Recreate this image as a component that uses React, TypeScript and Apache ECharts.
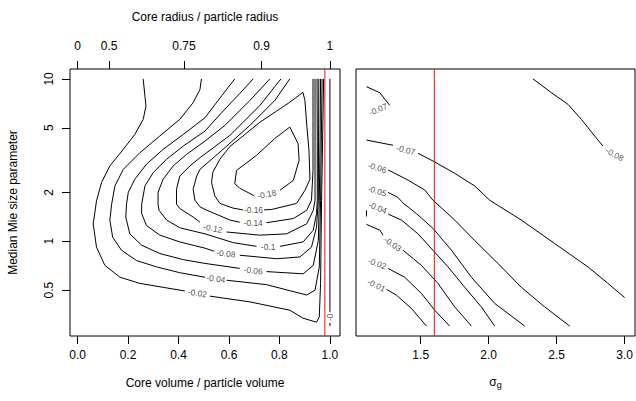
import React, { useEffect, useRef } from "react";
import * as echarts from "echarts";

// ---------- axes ----------
const volumeTicks = [0, 0.2, 0.4, 0.6, 0.8, 1.0];
const radiusTicks = [0, 0.5, 0.75, 0.9, 1];
const sizeTicks = [0.5, 1, 2, 5, 10];
const sigmaTicks = [1.5, 2.0, 2.5, 3.0];
const sizeRange = [0.3, 10];
const volumeRange = [-0.03, 1.04];
const sigmaRange = [1.1, 3.0];
const volumeMarker = 0.98;
const sigmaMarker = 1.6;

// ---------- left panel contours: [core volume fraction, size parameter] ----------
const c002a = [[0.975, 10], [0.971, 4.14], [0.967, 1.79], [0.963, 0.55], [0.958, 0.342], [0.947, 0.317], [0.893, 0.336], [0.841, 0.376], [0.683, 0.423], [0.524, 0.459]];
const c002b = [[0.425, 0.494], [0.339, 0.52], [0.247, 0.55], [0.168, 0.6], [0.108, 0.71], [0.075, 0.92], [0.062, 1.28], [0.075, 1.77], [0.095, 2.3], [0.128, 2.91], [0.181, 3.68], [0.227, 4.55], [0.26, 5.63], [0.271, 6.8], [0.267, 7.83], [0.26, 10]];
const c004a = [[0.491, 10], [0.485, 8.61], [0.458, 7.14], [0.405, 5.63], [0.326, 4.45], [0.247, 3.51], [0.181, 2.77], [0.148, 2.19], [0.135, 1.69], [0.128, 1.35], [0.139, 1.06], [0.174, 0.88], [0.234, 0.76], [0.313, 0.695], [0.405, 0.64], [0.505, 0.6]];
const c004b = [[0.591, 0.575], [0.749, 0.54], [0.908, 0.466], [0.941, 0.5], [0.958, 0.695], [0.963, 1.79], [0.966, 4.14], [0.969, 10]];
const c006a = [[0.623, 10], [0.572, 7.9], [0.505, 5.77], [0.419, 4.55], [0.339, 3.68], [0.273, 2.98], [0.227, 2.41], [0.201, 2.0], [0.194, 1.69], [0.191, 1.41], [0.207, 1.11], [0.254, 0.945], [0.326, 0.84], [0.419, 0.77], [0.505, 0.73], [0.643, 0.68]];
const c006b = [[0.749, 0.65], [0.894, 0.63], [0.934, 0.71], [0.954, 1.01], [0.958, 1.79], [0.961, 4.14], [0.963, 10]];
const c008a = [[0.696, 10], [0.643, 8.14], [0.572, 6.22], [0.505, 4.77], [0.419, 3.86], [0.353, 3.2], [0.3, 2.65], [0.267, 2.19], [0.254, 1.69], [0.254, 1.48], [0.273, 1.25], [0.326, 1.09], [0.405, 0.99], [0.505, 0.906], [0.541, 0.868]];
const c008b = [[0.643, 0.82], [0.789, 0.78], [0.881, 0.8], [0.927, 0.92], [0.947, 1.22], [0.954, 1.79], [0.955, 4.14], [0.956, 10]];
const c010a = [[0.762, 10], [0.683, 7.37], [0.584, 5.17], [0.505, 4.14], [0.432, 3.43], [0.379, 2.91], [0.339, 2.41], [0.319, 2.0], [0.319, 1.69], [0.323, 1.55], [0.353, 1.35], [0.405, 1.21], [0.505, 1.11], [0.617, 0.98], [0.709, 0.93]];
const c010b = [[0.802, 0.93], [0.894, 0.99], [0.934, 1.17], [0.947, 1.48], [0.95, 1.79], [0.95, 4.14], [0.949, 10]];
const c012a = [[0.806, 10], [0.723, 6.87], [0.604, 4.49], [0.485, 3.27], [0.445, 2.91], [0.405, 2.52], [0.392, 2.09], [0.392, 1.69], [0.405, 1.59], [0.458, 1.41], [0.485, 1.31]];
const c012b = [[0.591, 1.14], [0.722, 1.09], [0.828, 1.11], [0.908, 1.28], [0.934, 1.55], [0.941, 1.79], [0.941, 4.14], [0.941, 10]];
const c014a = [[0.841, 10], [0.782, 7.37], [0.683, 5.17], [0.572, 3.63], [0.485, 2.77], [0.472, 2.52], [0.458, 2.09], [0.465, 1.79], [0.485, 1.63], [0.505, 1.57], [0.604, 1.35], [0.643, 1.31]];
const c014b = [[0.749, 1.3], [0.855, 1.38], [0.908, 1.55], [0.927, 1.79], [0.933, 2.73], [0.933, 5.55], [0.933, 10]];
const c016 = [[0.739, 1.56], [0.77, 1.57], [0.868, 1.71], [0.901, 2.06], [0.921, 2.41], [0.917, 3.63], [0.909, 5.03], [0.901, 7.37], [0.893, 8.26], [0.841, 7.18], [0.789, 6.34], [0.722, 5.4], [0.656, 4.45], [0.604, 3.84], [0.564, 3.2], [0.536, 2.66], [0.531, 2.3], [0.544, 1.9], [0.564, 1.71], [0.616, 1.6], [0.655, 1.56]];
const c018 = [[0.802, 2.06], [0.855, 2.37], [0.878, 3.15], [0.874, 3.99], [0.841, 5.05], [0.782, 4.3], [0.709, 3.38], [0.63, 2.73], [0.623, 2.26], [0.643, 2.12], [0.7, 1.905]];
const c000a = [[1.0, 10], [1.0, 0.367]];
const c000b = [[1.0, 0.314], [1.0, 0.3]];

const leftLevels = ["-0.02", "-0.04", "-0.06", "-0.08", "-0.1", "-0.12", "-0.14", "-0.16", "-0.18", "-0"];
const leftLabelX = [0.475, 0.548, 0.696, 0.588, 0.755, 0.536, 0.696, 0.697, 0.75, 1.0];
const leftLabelY = [0.479, 0.588, 0.66, 0.84, 0.925, 1.2, 1.3, 1.55, 1.95, 0.34];
const leftLabelRot = [-9, -8, -6, -7, 0, -12, 0, 0, 11, 90];

// ---------- right panel contours: [sigma_g, size parameter] ----------
const s007a = [[1.101, 8.95], [1.199, 8.22], [1.272, 6.87]];
const s008 = [[2.326, 10], [2.461, 8.22], [2.583, 6.97], [2.682, 5.63], [2.779, 4.45], [2.84, 3.86]];
const s007b = [[1.101, 4.2], [1.296, 3.9]];
const s007c = [[1.48, 3.48], [1.59, 3.12], [1.75, 2.62], [1.897, 2.19], [2.007, 1.79], [2.24, 1.35], [2.485, 0.968], [2.73, 0.695], [2.877, 0.55], [3.0, 0.45]];
const s006 = [[1.26, 2.75], [1.407, 2.38], [1.529, 2.07], [1.59, 1.79], [1.75, 1.35], [1.897, 1.01], [2.068, 0.73], [2.24, 0.52], [2.412, 0.394], [2.596, 0.3]];
const s005 = [[1.26, 2.0], [1.333, 1.86], [1.37, 1.72], [1.468, 1.48], [1.59, 1.2], [1.726, 0.88], [1.873, 0.6], [2.044, 0.414], [2.265, 0.3]];
const s004a = [[1.101, 1.55], [1.101, 1.42]];
const s004b = [[1.26, 1.47], [1.358, 1.35], [1.48, 1.11], [1.59, 0.88], [1.701, 0.695], [1.824, 0.52], [1.946, 0.394], [2.044, 0.3]];
const s003a = [[1.101, 1.27], [1.199, 1.17], [1.223, 1.09]];
const s003b = [[1.37, 0.88], [1.505, 0.71], [1.627, 0.55], [1.75, 0.394], [1.873, 0.3]];
const s002 = [[1.26, 0.68], [1.382, 0.6], [1.505, 0.477], [1.603, 0.376], [1.713, 0.3]];
const s001 = [[1.248, 0.505], [1.321, 0.466], [1.432, 0.385], [1.542, 0.3]];

const rightLevels = ["-0.07", "-0.08", "-0.07", "-0.06", "-0.05", "-0.04", "-0.03", "-0.02", "-0.01"];
const rightLabelX = [1.186, 2.926, 1.39, 1.18, 1.18, 1.184, 1.294, 1.179, 1.174];
const rightLabelY = [6.49, 3.43, 3.65, 2.84, 2.04, 1.61, 0.96, 0.73, 0.536];
const rightLabelRot = [22, -29, -13, -17, -17, -23, -35, -20, -26];

const FONT = "'Liberation Sans', Arial, Helvetica, sans-serif";
const lg = Math.log10;

export default function App() {
  const ref = useRef<HTMLDivElement>(null);
  useEffect(() => {
    if (!ref.current) return;
    const chart = echarts.init(ref.current, undefined, { renderer: "svg" });

    const span = lg(sizeRange[1]) - lg(sizeRange[0]);
    const yMin = lg(sizeRange[0]) - 0.04 * span;
    const yMax = lg(sizeRange[1]) + 0.04 * span;
    const sSpan = sigmaRange[1] - sigmaRange[0];
    const sMin = sigmaRange[0] - 0.04 * sSpan;
    const sMax = sigmaRange[1] + 0.04 * sSpan;

    const toLog = (pts: number[][]) => pts.map(([x, y]) => [x, lg(y)]);
    const line = (pts: number[][], xi: number, yi: number, extra: any = {}) => ({
      type: "line",
      xAxisIndex: xi,
      yAxisIndex: yi,
      data: toLog(pts),
      showSymbol: false,
      symbol: "none",
      silent: true,
      lineStyle: { color: "#000", width: 1 },
      z: 3,
      ...extra,
    });
    const labels = (texts: string[], xs: number[], ys: number[], rots: number[], xi: number, yi: number) => ({
      type: "scatter",
      xAxisIndex: xi,
      yAxisIndex: yi,
      symbolSize: 1,
      silent: true,
      itemStyle: { color: "rgba(0,0,0,0)" },
      z: 5,
      label: {
        show: true,
        position: "inside",
        formatter: "{b}",
        fontSize: 8.4,
        fontFamily: FONT,
        color: "#222",
      },
      data: texts.map((t, i) => ({ name: t, value: [xs[i], lg(ys[i])], label: { rotate: rots[i] } })),
    });
    // vertical reference line spanning the full plot region
    const marker = (x: number, xi: number, yi: number) => ({
      type: "line",
      xAxisIndex: xi,
      yAxisIndex: yi,
      data: [[x, yMin], [x, yMax]],
      showSymbol: false,
      symbol: "none",
      silent: true,
      clip: false,
      z: 8,
      lineStyle: { color: "#ee1111", width: 1 },
    });

    const axisFont = { fontFamily: FONT, fontSize: 12, color: "#000" };
    const tickStyle = { lineStyle: { color: "#000", width: 1 } };
    const noLine = { show: false, onZero: false };
    const logTickVals = sizeTicks.map((v) => lg(v));
    const radiusVals = radiusTicks.map((r) => r * r * r);

    const option: any = {
      animation: false,
      backgroundColor: "#fff",
      grid: [
        { left: 70, top: 69, width: 270, height: 267, show: true, borderColor: "#000", borderWidth: 1, backgroundColor: "transparent" },
        { left: 356, top: 69, width: 279, height: 267, show: true, borderColor: "#000", borderWidth: 1, backgroundColor: "transparent" },
      ],
      xAxis: [
        {
          type: "value",
          gridIndex: 0,
          position: "bottom",
          min: volumeRange[0],
          max: volumeRange[1],
          axisLine: noLine,
          splitLine: { show: false },
          axisTick: { show: true, length: 8, customValues: volumeTicks, ...tickStyle },
          axisLabel: { ...axisFont, margin: 13, customValues: volumeTicks, formatter: (v: number) => v.toFixed(1) },
          name: "Core volume / particle volume",
          nameLocation: "middle",
          nameGap: 41,
          nameTextStyle: axisFont,
        },
        {
          type: "value",
          gridIndex: 0,
          position: "top",
          min: volumeRange[0],
          max: volumeRange[1],
          axisLine: noLine,
          splitLine: { show: false },
          axisTick: { show: true, length: 8, customValues: radiusVals, ...tickStyle },
          axisLabel: {
            ...axisFont,
            margin: 17,
            customValues: radiusVals,
            formatter: (v: number) => {
              let best = 0;
              radiusVals.forEach((rv, i) => {
                if (Math.abs(rv - v) < Math.abs(radiusVals[best] - v)) best = i;
              });
              return String(radiusTicks[best]);
            },
          },
          name: "Core radius / particle radius",
          nameLocation: "middle",
          nameGap: 46,
          nameTextStyle: axisFont,
        },
        {
          type: "value",
          gridIndex: 1,
          position: "bottom",
          min: sMin,
          max: sMax,
          axisLine: noLine,
          splitLine: { show: false },
          axisTick: { show: true, length: 8, customValues: sigmaTicks, ...tickStyle },
          axisLabel: { ...axisFont, margin: 13, customValues: sigmaTicks, formatter: (v: number) => v.toFixed(1) },
          name: "{s|σ}{g|g}",
          nameLocation: "middle",
          nameGap: 38,
          nameTextStyle: {
            ...axisFont,
            rich: {
              s: { fontFamily: FONT, fontSize: 12, color: "#000" },
              g: { fontFamily: FONT, fontSize: 9, color: "#000", verticalAlign: "bottom", padding: [6, 0, 0, 0] },
            },
          },
        },
      ],
      yAxis: [
        {
          type: "value",
          gridIndex: 0,
          position: "left",
          min: yMin,
          max: yMax,
          axisLine: noLine,
          splitLine: { show: false },
          axisTick: { show: true, length: 8, customValues: logTickVals, ...tickStyle },
          axisLabel: {
            ...axisFont,
            rotate: 90,
            margin: 15,
            customValues: logTickVals,
            formatter: (v: number) => String(+Math.pow(10, v).toPrecision(3)),
          },
          name: "Median Mie size parameter",
          nameLocation: "middle",
          nameRotate: 90,
          nameGap: 51,
          nameTextStyle: axisFont,
        },
        {
          type: "value",
          gridIndex: 1,
          position: "left",
          min: yMin,
          max: yMax,
          axisLine: noLine,
          splitLine: { show: false },
          axisTick: { show: false },
          axisLabel: { show: false },
        },
      ],
      series: [
        line(c002a, 0, 0),
        line(c002b, 0, 0),
        line(c004a, 0, 0),
        line(c004b, 0, 0),
        line(c006a, 0, 0),
        line(c006b, 0, 0),
        line(c008a, 0, 0),
        line(c008b, 0, 0),
        line(c010a, 0, 0),
        line(c010b, 0, 0),
        line(c012a, 0, 0),
        line(c012b, 0, 0),
        line(c014a, 0, 0),
        line(c014b, 0, 0),
        line(c016, 0, 0),
        line(c018, 0, 0),
        line(c000a, 0, 0),
        line(c000b, 0, 0),
        labels(leftLevels, leftLabelX, leftLabelY, leftLabelRot, 0, 0),
        marker(volumeMarker, 0, 0),
        line(s007a, 2, 1),
        line(s008, 2, 1),
        line(s007b, 2, 1),
        line(s007c, 2, 1),
        line(s006, 2, 1),
        line(s005, 2, 1),
        line(s004a, 2, 1),
        line(s004b, 2, 1),
        line(s003a, 2, 1),
        line(s003b, 2, 1),
        line(s002, 2, 1),
        line(s001, 2, 1),
        labels(rightLevels, rightLabelX, rightLabelY, rightLabelRot, 2, 1),
        marker(sigmaMarker, 2, 1),
      ],
    };
    chart.setOption(option);
    return () => chart.dispose();
  }, []);

  return (
    <div
      ref={ref}
      style={{ position: "fixed", left: 0, top: 0, width: 636, height: 401, background: "#fff" }}
    />
  );
}
